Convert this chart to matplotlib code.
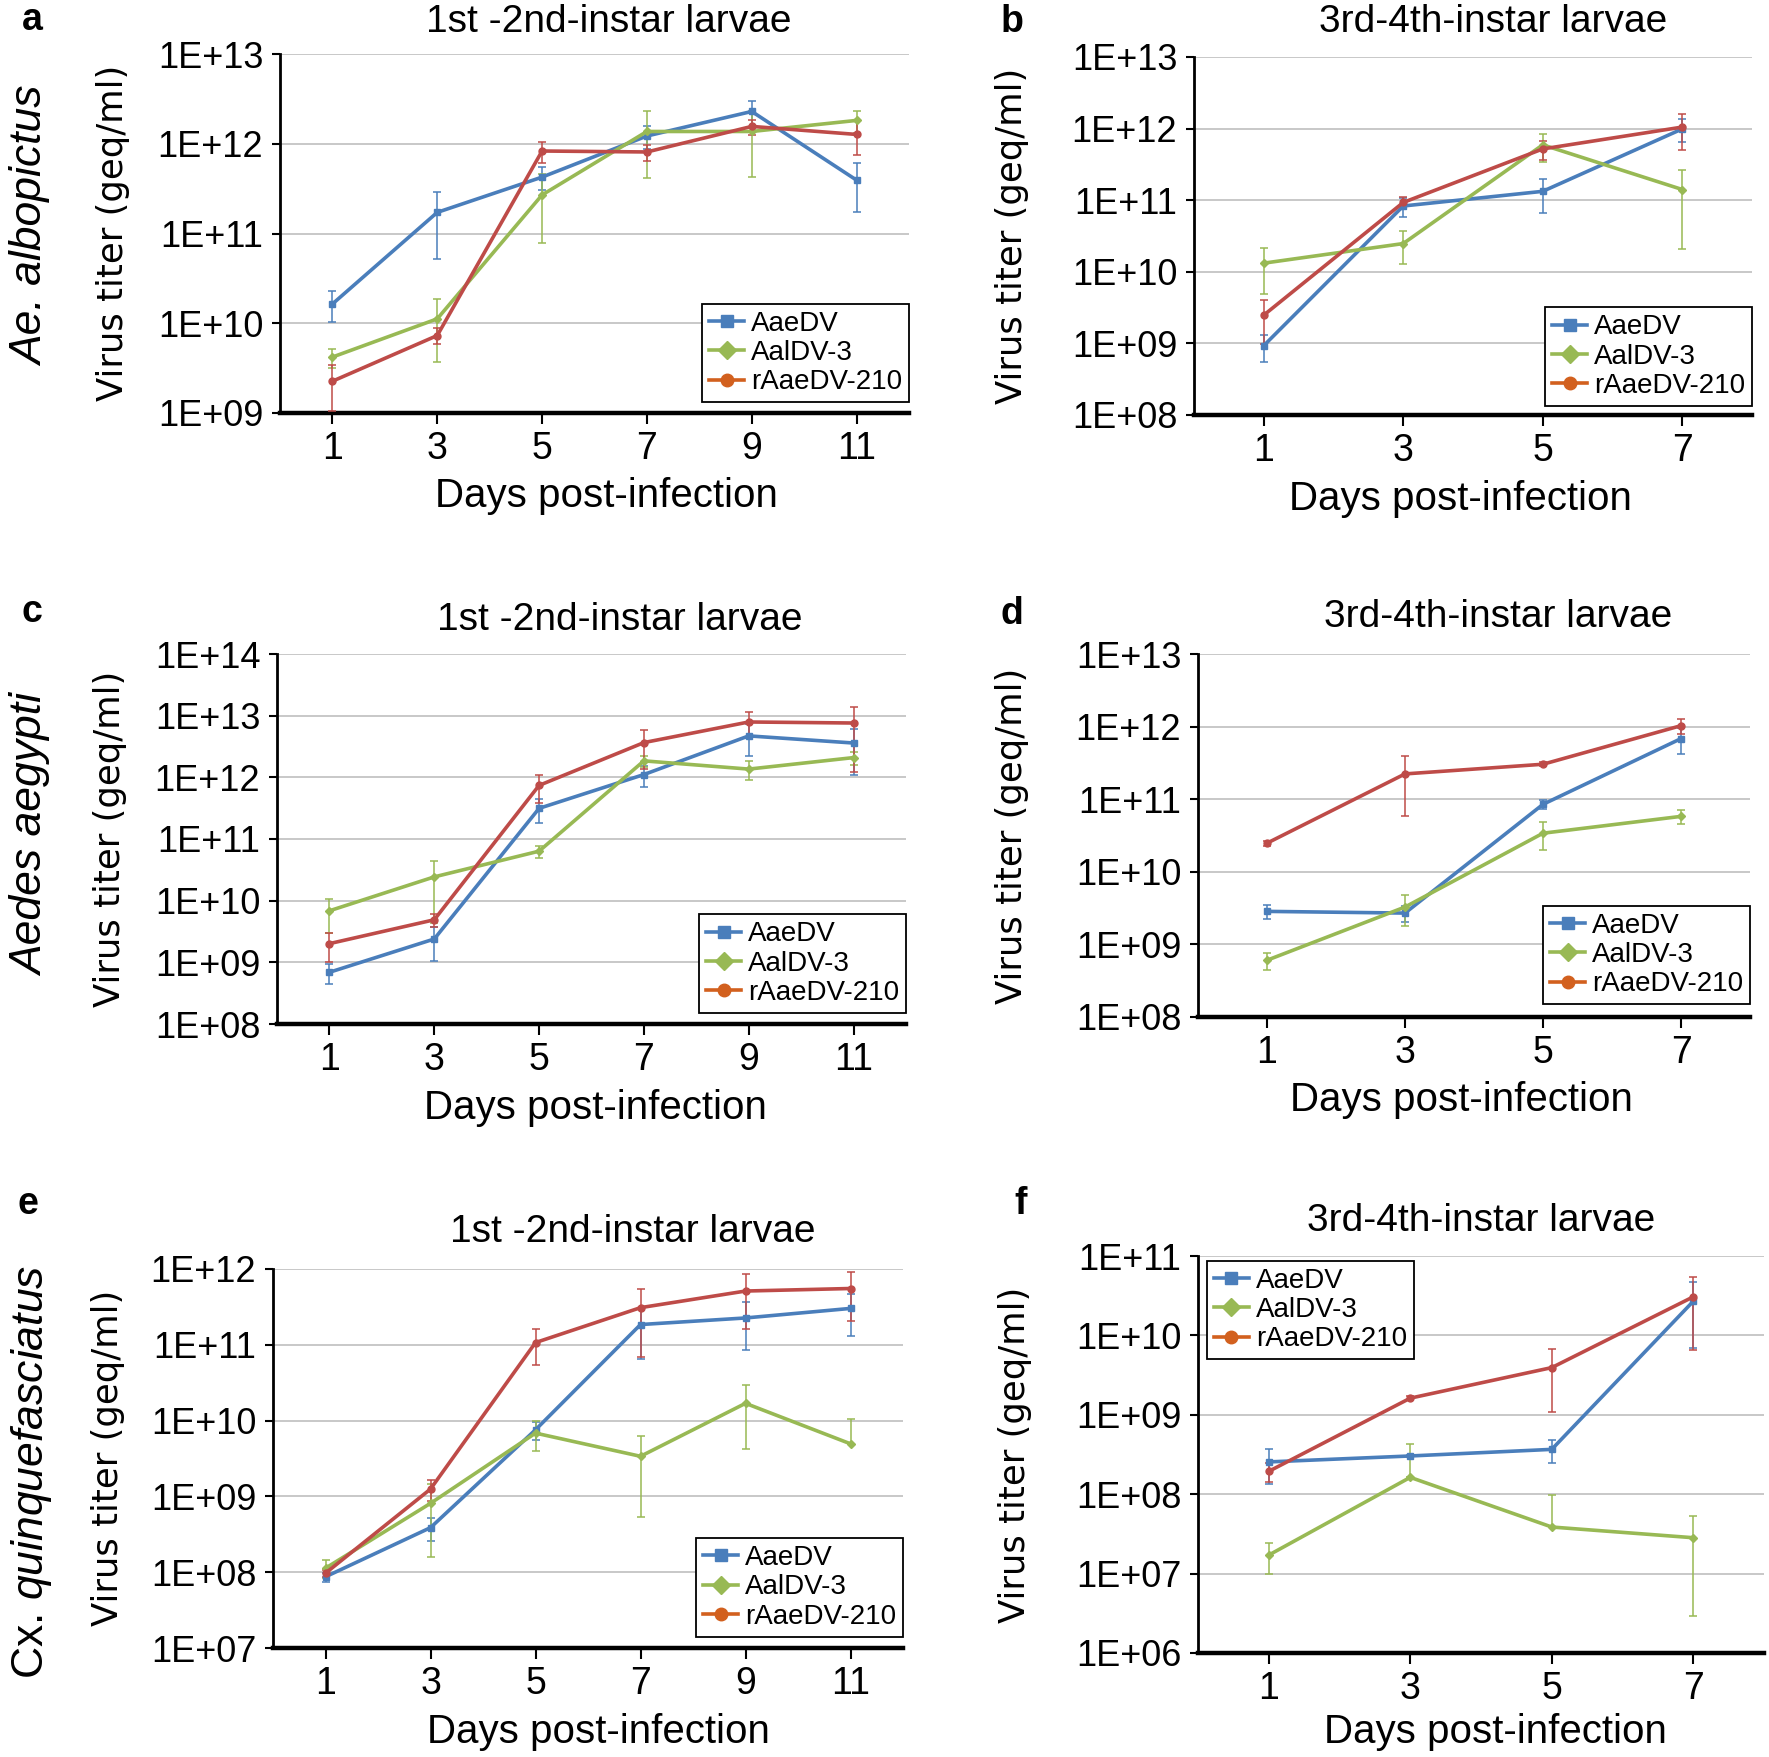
import numpy as np
import matplotlib
matplotlib.use("Agg")
import matplotlib.pyplot as plt
from matplotlib.lines import Line2D
from matplotlib.ticker import FixedLocator, NullLocator

# ---- data (virus titer, geq/ml; error = +/- SD) ----
DAYS_L12 = [1, 3, 5, 7, 9, 11]
DAYS_L34 = [1, 3, 5, 7]

# a: Ae. albopictus, 1st-2nd instar
A_AAEDV = [1.64e10, 1.72e11, 4.25e11, 1.22e12, 2.29e12, 3.93e11]
A_AAEDV_ERR = [0.62e10, 1.2e11, 1.2e11, 0.34e12, 0.74e12, 2.2e11]
A_AALDV3 = [4.2e9, 1.12e10, 2.69e11, 1.37e12, 1.37e12, 1.82e12]
A_AALDV3_ERR = [1.0e9, 0.75e10, 1.9e11, 0.95e12, 0.94e12, 0.5e12]
A_RAAEDV = [2.26e9, 7.3e9, 8.3e11, 8.1e11, 1.56e12, 1.27e12]
A_RAAEDV_ERR = [1.2e9, 1.5e9, 0.22e12, 0.16e12, 0.3e12, 0.53e12]

# b: Ae. albopictus, 3rd-4th instar
B_AAEDV = [9.3e8, 8.3e10, 1.33e11, 9.9e11]
B_AAEDV_ERR = [3.8e8, 2.4e10, 0.67e11, 0.35e12]
B_AALDV3 = [1.32e10, 2.48e10, 5.93e11, 1.41e11]
B_AALDV3_ERR = [0.83e10, 1.2e10, 2.5e11, 1.2e11]
B_RAAEDV = [2.48e9, 9.3e10, 5.2e11, 1.05e12]
B_RAAEDV_ERR = [1.5e9, 1.8e10, 1.5e11, 0.55e12]

# c: Aedes aegypti, 1st-2nd instar
C_AAEDV = [6.9e8, 2.39e9, 3.14e11, 1.11e12, 4.7e12, 3.6e12]
C_AAEDV_ERR = [2.4e8, 1.35e9, 1.3e11, 0.4e12, 2.5e12, 2.5e12]
C_AALDV3 = [6.85e9, 2.43e10, 6.35e10, 1.85e12, 1.36e12, 2.09e12]
C_AALDV3_ERR = [3.9e9, 2.0e10, 1.4e10, 0.4e12, 0.47e12, 0.5e12]
C_RAAEDV = [2.01e9, 4.9e9, 7.4e11, 3.66e12, 7.9e12, 7.6e12]
C_RAAEDV_ERR = [1.0e9, 1.2e9, 0.35e12, 2.3e12, 3.6e12, 6.4e12]

# d: Aedes aegypti, 3rd-4th instar
D_AAEDV = [2.85e9, 2.7e9, 8.5e10, 6.83e11]
D_AAEDV_ERR = [0.6e9, 0.65e9, 1.2e10, 2.6e11]
D_AALDV3 = [6.05e8, 3.27e9, 3.4e10, 5.8e10]
D_AALDV3_ERR = [1.6e8, 1.5e9, 1.4e10, 1.2e10]
D_RAAEDV = [2.48e10, 2.23e11, 3.03e11, 1.03e12]
D_RAAEDV_ERR = [0.2e10, 1.65e11, 0.2e11, 0.25e12]

# e: Cx. quinquefasciatus, 1st-2nd instar
E_AAEDV = [8.7e7, 3.87e8, 7.56e9, 1.85e11, 2.26e11, 3.02e11]
E_AAEDV_ERR = [1.2e7, 1.3e8, 2.0e9, 1.2e11, 1.4e11, 1.7e11]
E_AALDV3 = [1.13e8, 8.1e8, 6.84e9, 3.38e9, 1.69e10, 4.94e9]
E_AALDV3_ERR = [3e7, 6.5e8, 2.9e9, 2.85e9, 1.27e10, 5.5e9]
E_RAAEDV = [9.7e7, 1.25e9, 1.07e11, 3.09e11, 5.12e11, 5.53e11]
E_RAAEDV_ERR = [1.0e7, 0.38e9, 0.53e11, 2.4e11, 3.5e11, 3.5e11]

# f: Cx. quinquefasciatus, 3rd-4th instar
F_AAEDV = [2.55e8, 3.03e8, 3.67e8, 2.69e10]
F_AAEDV_ERR = [1.2e8, 0.1e8, 1.2e8, 2.0e10]
F_AALDV3 = [1.71e7, 1.63e8, 3.86e7, 2.83e7]
F_AALDV3_ERR = [0.72e7, 2.6e8, 5.8e7, 2.54e7]
F_RAAEDV = [1.94e8, 1.62e9, 3.93e9, 3.06e10]
F_RAAEDV_ERR = [0.5e8, 0.1e9, 2.85e9, 2.4e10]

SERIES = ["AaeDV", "AalDV-3", "rAaeDV-210"]
TITLE_L12 = "1st -2nd-instar larvae"
TITLE_L34 = "3rd-4th-instar larvae"
SPECIES = ["Ae. albopictus", "Aedes aegypti", "Cx. quinquefasciatus"]

# ---- style ----
BLUE = "#4A7EBB"
GREEN = "#98B954"
RED = "#BE4B48"
LEG_RED = "#D2601E"
COLORS = [BLUE, GREEN, RED]
MARKERS = ["s", "D", "o"]
MSIZE = [5, 4.5, 5]

W, H = 1769, 1757
SANS = ["Liberation Sans", "DejaVu Sans"]
plt.rcParams["mathtext.fontset"] = "custom"
plt.rcParams["mathtext.it"] = "Liberation Sans:italic"
plt.rcParams["mathtext.rm"] = "Liberation Sans"
fig = plt.figure(figsize=(W / 100, H / 100), dpi=100)


def make_axes(left, right, top, bottom):
    return fig.add_axes([left / W, 1 - bottom / H, (right - left) / W, (bottom - top) / H])


def draw_panel(ax, days, series, errs, ylo, yhi, legend_loc, legend_anchor):
    x = np.array(days)
    for vals, err, c, m, ms in zip(series, errs, COLORS, MARKERS, MSIZE):
        vals = np.array(vals)
        err = np.array(err)
        lower = np.where(err < vals, err, 0.0)
        ax.errorbar(x, vals, yerr=[lower, err], color=c, lw=2.6, marker=m, ms=ms,
                    elinewidth=1.1, capsize=3, capthick=1.1, zorder=3)
    ax.set_yscale("log")
    ax.set_ylim(10.0 ** ylo, 10.0 ** yhi)
    ax.set_xlim(0, max(days) + 1)
    decades = list(range(ylo, yhi + 1))
    ax.yaxis.set_major_locator(FixedLocator([10.0 ** d for d in decades]))
    ax.yaxis.set_minor_locator(NullLocator())
    ax.set_yticklabels([f"1E+{d:02d}" for d in decades])
    ax.set_xticks(days)
    ax.set_xticklabels([str(d) for d in days])
    ax.grid(axis="y", color="#c8c8c8", lw=1.4, zorder=0)
    ax.set_axisbelow(True)
    for s in ["top", "right"]:
        ax.spines[s].set_visible(False)
    ax.spines["left"].set_linewidth(2.0)
    ax.spines["bottom"].set_linewidth(3.2)
    ax.tick_params(axis="y", direction="out", length=6, width=1.5, pad=6, labelsize=26)
    ax.tick_params(axis="x", direction="out", length=8, width=1.5, pad=5, labelsize=27)
    for lab in ax.get_xticklabels() + ax.get_yticklabels():
        lab.set_family(SANS)
    handles = [Line2D([], [], color=c, lw=2.6, marker=m, ms=9)
               for c, m in zip([BLUE, GREEN, LEG_RED], MARKERS)]
    leg = ax.legend(handles, SERIES, loc=legend_loc, bbox_to_anchor=legend_anchor,
                    frameon=True, fancybox=False, edgecolor="black", framealpha=1,
                    handlelength=1.25, handletextpad=0.25, borderpad=0.25,
                    labelspacing=0.12, borderaxespad=0,
                    prop={"family": SANS, "size": 20})
    leg.get_frame().set_linewidth(1.3)


ax_a = make_axes(280, 909, 54, 413)
draw_panel(ax_a, DAYS_L12, [A_AAEDV, A_AALDV3, A_RAAEDV],
           [A_AAEDV_ERR, A_AALDV3_ERR, A_RAAEDV_ERR], 9, 13, "lower right", (1.0, 0.03))
ax_b = make_axes(1194, 1752, 57, 415)
draw_panel(ax_b, DAYS_L34, [B_AAEDV, B_AALDV3, B_RAAEDV],
           [B_AAEDV_ERR, B_AALDV3_ERR, B_RAAEDV_ERR], 8, 13, "lower right", (1.0, 0.025))
ax_c = make_axes(277, 906, 654, 1024)
draw_panel(ax_c, DAYS_L12, [C_AAEDV, C_AALDV3, C_RAAEDV],
           [C_AAEDV_ERR, C_AALDV3_ERR, C_RAAEDV_ERR], 8, 14, "lower right", (1.0, 0.03))
ax_d = make_axes(1198, 1750, 654, 1017)
draw_panel(ax_d, DAYS_L34, [D_AAEDV, D_AALDV3, D_RAAEDV],
           [D_AAEDV_ERR, D_AALDV3_ERR, D_RAAEDV_ERR], 8, 13, "lower right", (1.0, 0.035))
ax_e = make_axes(273, 903, 1269, 1648)
draw_panel(ax_e, DAYS_L12, [E_AAEDV, E_AALDV3, E_RAAEDV],
           [E_AAEDV_ERR, E_AALDV3_ERR, E_RAAEDV_ERR], 7, 12, "lower right", (1.0, 0.03))
ax_f = make_axes(1198, 1764, 1256, 1653)
draw_panel(ax_f, DAYS_L34, [F_AAEDV, F_AALDV3, F_RAAEDV],
           [F_AAEDV_ERR, F_AALDV3_ERR, F_RAAEDV_ERR], 6, 11, "upper left", (0.016, 0.988))


def ftext(x, y, s, **kw):
    fig.text(x / W, 1 - y / H, s, **kw)


# titles, x labels, y labels, panel letters
TITLE_POS = [(609, 22, TITLE_L12), (1493, 22, TITLE_L34), (620, 620, TITLE_L12),
             (1498, 617, TITLE_L34), (633, 1232, TITLE_L12), (1481, 1221, TITLE_L34)]
for x, y, s in TITLE_POS:
    ftext(x, y, s, ha="center", va="center", fontsize=28, family=SANS)

XLAB_POS = [(606, 496), (1460, 499), (595, 1108), (1461, 1100), (598, 1732), (1495, 1732)]
for x, y in XLAB_POS:
    ftext(x, y, "Days post-infection", ha="center", va="center", fontsize=29, family=SANS)

YLAB_POS = [(113, 233), (1012, 236), (110, 839), (1012, 836), (108, 1458), (1015, 1455)]
for x, y in YLAB_POS:
    ftext(x, y, "Virus titer (geq/ml)", ha="center", va="center", rotation=90,
          fontsize=25.5, family="DejaVu Sans")

LETTERS = [(32, 20, "a"), (1012, 22, "b"), (32, 612, "c"), (1012, 614, "d"),
           (28, 1204, "e"), (1021, 1204, "f")]
for x, y, s in LETTERS:
    ftext(x, y, s, ha="center", va="center", fontsize=27, fontweight="bold", family=SANS)

SPECIES_POS = [(32, 226), (32, 835), (32, 1472)]
for (x, y), s in zip(SPECIES_POS, SPECIES):
    if s.startswith("Cx."):
        s = r"Cx. $\it{quinquefasciatus}$"
        style = "normal"
    else:
        style = "italic"
    ftext(x, y, s, ha="center", va="center", rotation=90, fontsize=32,
          family=SANS, style=style)

fig.savefig("out.png", dpi=100)
